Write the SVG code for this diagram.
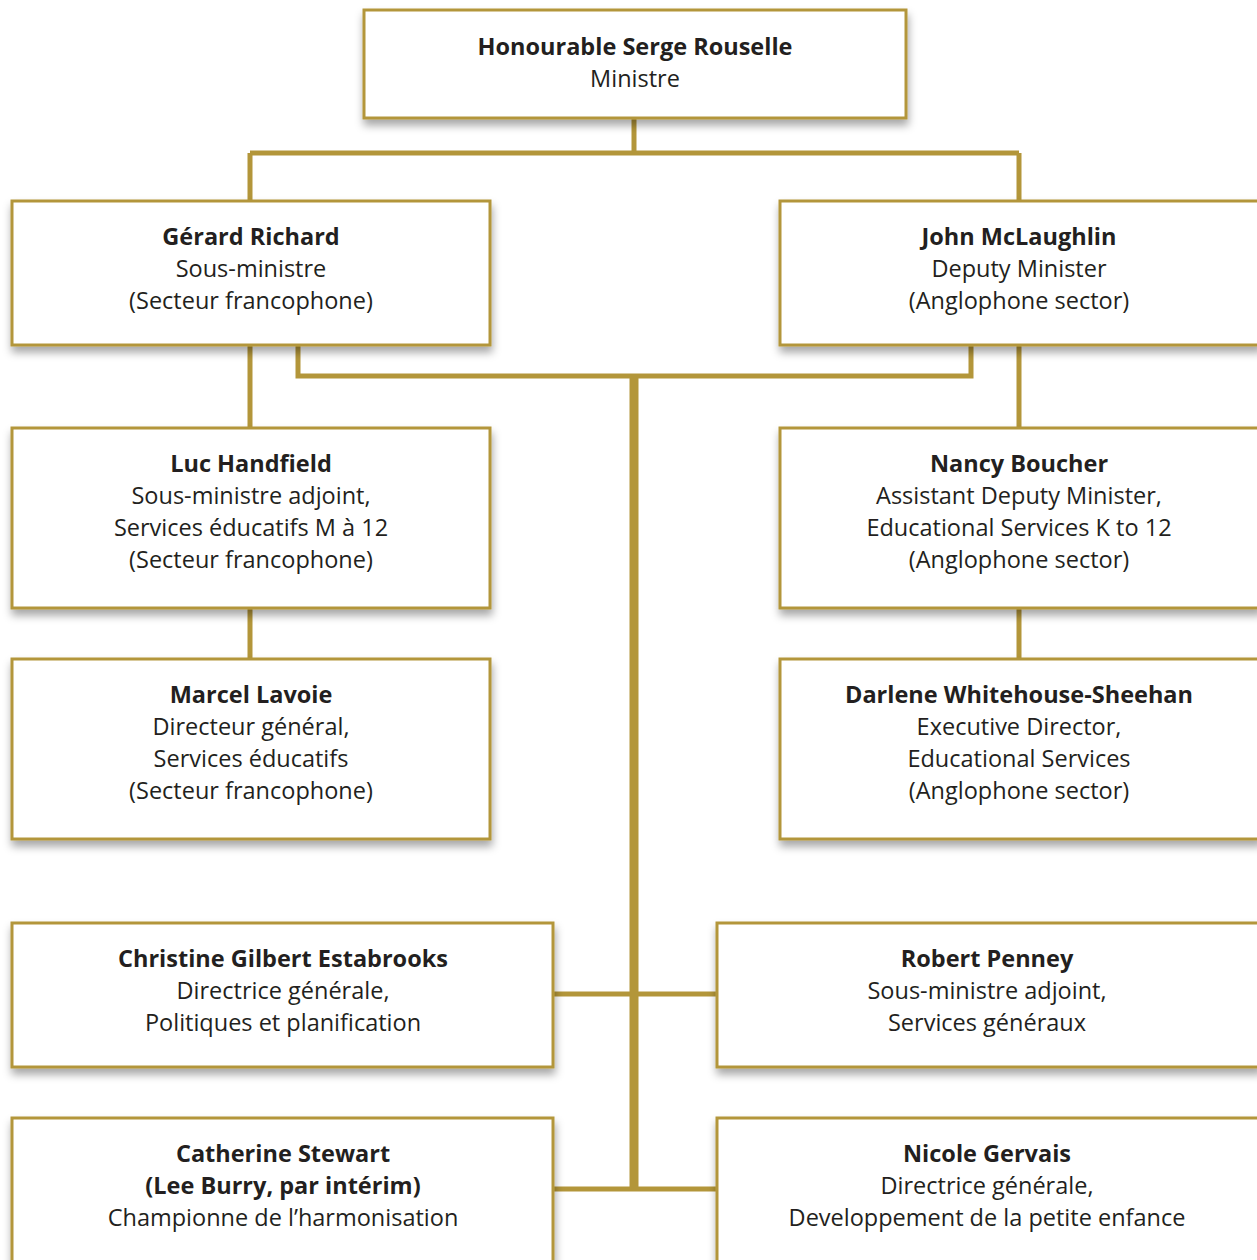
<svg xmlns="http://www.w3.org/2000/svg" width="1257" height="1260" viewBox="0 0 1257 1260">
<defs>
<filter id="sh" x="-10%" y="-10%" width="125%" height="140%">
<feDropShadow dx="1" dy="6" stdDeviation="4" flood-color="#000" flood-opacity="0.35"/>
</filter>
<style>
.box{fill:#fff;stroke:#b3963a;stroke-width:3;filter:url(#sh)}
.ln{stroke:#b3963a;stroke-width:5;fill:none}
.trunk{stroke:#b3963a;stroke-width:9;fill:none}
text{font-family:"Open Sans","Liberation Sans",sans-serif;font-size:23.5px;fill:#231f20;text-anchor:middle}
.b{font-weight:bold}
</style>
</defs>
<rect width="1257" height="1260" fill="#fff"/>
<g id="connectors">
<path class="ln" d="M634 118V153M250 153H1019M250 153V200M1019 153V200"/>
<path class="ln" d="M298 345V376H971V345"/>
<path class="ln" d="M250 345V427M1019 345V427M250 608V658M1019 608V658"/>
<path class="ln" d="M553 994H716M553 1189H716"/>
<path class="trunk" d="M634 376V1191"/>
</g>
<g id="minister"><rect class="box" x="364" y="10" width="542" height="108"/>
<text x="635" y="55" class="b">Honourable Serge Rouselle</text><text x="635" y="87">Ministre</text></g>
<g id="gerard"><rect class="box" x="12" y="201" width="478" height="144"/>
<text x="251" y="245" class="b">Gérard Richard</text><text x="251" y="277">Sous-ministre</text><text x="251" y="309">(Secteur francophone)</text></g>
<g id="john"><rect class="box" x="780" y="201" width="480" height="144"/>
<text x="1019" y="245" class="b">John McLaughlin</text><text x="1019" y="277">Deputy Minister</text><text x="1019" y="309">(Anglophone sector)</text></g>
<g id="luc"><rect class="box" x="12" y="428" width="478" height="180"/>
<text x="251" y="472" class="b">Luc Handfield</text><text x="251" y="504">Sous-ministre adjoint,</text><text x="251" y="536">Services éducatifs M à 12</text><text x="251" y="568">(Secteur francophone)</text></g>
<g id="nancy"><rect class="box" x="780" y="428" width="480" height="180"/>
<text x="1019" y="472" class="b">Nancy Boucher</text><text x="1019" y="504">Assistant Deputy Minister,</text><text x="1019" y="536">Educational Services K to 12</text><text x="1019" y="568">(Anglophone sector)</text></g>
<g id="marcel"><rect class="box" x="12" y="659" width="478" height="180"/>
<text x="251" y="703" class="b">Marcel Lavoie</text><text x="251" y="735">Directeur général,</text><text x="251" y="767">Services éducatifs</text><text x="251" y="799">(Secteur francophone)</text></g>
<g id="darlene"><rect class="box" x="780" y="659" width="480" height="180"/>
<text x="1019" y="703" class="b">Darlene Whitehouse-Sheehan</text><text x="1019" y="735">Executive Director,</text><text x="1019" y="767">Educational Services</text><text x="1019" y="799">(Anglophone sector)</text></g>
<g id="christine"><rect class="box" x="12" y="923" width="541" height="144"/>
<text x="283" y="967" class="b">Christine Gilbert Estabrooks</text><text x="283" y="999">Directrice générale,</text><text x="283" y="1031">Politiques et planification</text></g>
<g id="robert"><rect class="box" x="717" y="923" width="543" height="144"/>
<text x="987" y="967" class="b">Robert Penney</text><text x="987" y="999">Sous-ministre adjoint,</text><text x="987" y="1031">Services généraux</text></g>
<g id="catherine"><rect class="box" x="12" y="1118" width="541" height="160"/>
<text x="283" y="1162" class="b">Catherine Stewart</text><text x="283" y="1194" class="b">(Lee Burry, par intérim)</text><text x="283" y="1226">Championne de l’harmonisation</text></g>
<g id="nicole"><rect class="box" x="717" y="1118" width="543" height="160"/>
<text x="987" y="1162" class="b">Nicole Gervais</text><text x="987" y="1194">Directrice générale,</text><text x="987" y="1226">Developpement de la petite enfance</text></g>
</svg>
